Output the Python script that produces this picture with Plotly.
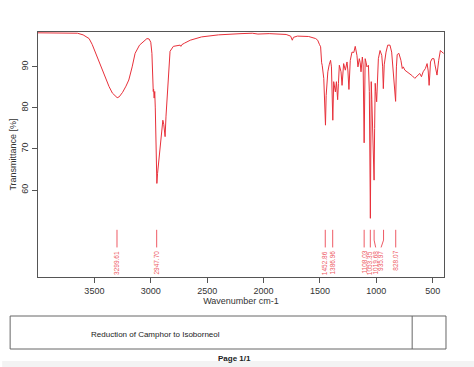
import plotly.graph_objects as go

# Spectrum (wavenumber cm-1, transmittance %)
wavenumber = [4000, 3800, 3650, 3600, 3547, 3520, 3489, 3460, 3430, 3400, 3370, 3340, 3310, 3298, 3280,
              3250, 3220, 3195, 3165, 3139, 3100, 3060, 3034, 3015, 3000, 2990, 2984, 2978, 2975, 2970,
              2965, 2960, 2952, 2946, 2940, 2935, 2931, 2920, 2905, 2893, 2885, 2878, 2873, 2865, 2850,
              2838, 2829, 2800, 2760, 2740, 2733, 2725, 2700, 2650, 2550, 2400, 2200, 2100, 2050, 1950,
              1800, 1760, 1745, 1735, 1700, 1600, 1538, 1520, 1505, 1494, 1485, 1480, 1466, 1458, 1451,
              1445, 1437, 1430, 1418, 1406, 1398, 1386, 1378, 1370, 1363, 1354, 1343, 1336, 1328, 1313,
              1304, 1290, 1275, 1260, 1252, 1243, 1235, 1231, 1216, 1200, 1187, 1180, 1172, 1163, 1151,
              1143, 1136, 1124, 1117, 1108, 1099, 1090, 1084, 1070, 1062, 1053, 1049, 1045, 1040, 1031,
              1026, 1020, 1015, 1010, 1005, 997, 990, 982, 967, 952, 944, 938, 930, 923, 914,
              899, 879, 864, 850, 840, 829, 822, 815, 800, 782, 770, 761, 747, 725, 703,
              680, 659, 644, 629, 615, 600, 585, 565, 550, 540, 532, 526, 520, 506, 489,
              480, 462, 447, 432, 418, 403]
transmittance = [98.3, 98.3, 98.2, 97.8, 96.9, 95.5, 93.3, 91.3, 89.2, 87.0, 85.2, 83.6, 82.7, 82.5, 82.7,
                 83.8, 85.3, 86.8, 90.0, 93.3, 95.3, 96.3, 96.9, 96.8, 96.0, 93.3, 88.0, 84.0, 84.6, 82.4,
                 84.0, 80.0, 70.0, 61.6, 64.0, 65.5, 65.3, 70.0, 74.5, 77.0, 76.0, 73.5, 73.0, 78.0, 86.0,
                 91.5, 93.8, 95.0, 95.3, 95.3, 95.0, 95.4, 95.8, 96.5, 97.3, 97.8, 98.1, 98.2, 98.0, 98.1,
                 97.9, 97.5, 96.5, 97.2, 97.5, 97.4, 96.9, 96.5, 95.5, 94.9, 91.0, 90.4, 87.2, 82.0, 75.8,
                 83.0, 88.0, 88.8, 90.5, 91.6, 90.0, 77.0, 86.4, 85.0, 83.9, 86.4, 82.0, 86.0, 90.4, 88.8,
                 85.5, 90.8, 89.2, 91.2, 89.0, 84.5, 90.0, 91.6, 93.6, 93.5, 95.0, 94.0, 92.8, 90.0, 92.0,
                 91.0, 88.8, 92.4, 90.5, 71.5, 92.0, 91.0, 90.0, 90.4, 84.0, 53.1, 75.0, 86.4, 82.0, 69.0,
                 70.0, 62.4, 75.0, 86.0, 84.0, 81.5, 88.0, 92.0, 94.0, 92.8, 90.0, 84.7, 90.5, 92.4, 93.6,
                 95.3, 95.3, 93.6, 88.8, 84.0, 81.6, 90.0, 93.0, 93.3, 91.6, 89.6, 90.0, 89.2, 88.8, 88.4,
                 87.8, 87.2, 87.6, 88.0, 88.4, 87.6, 88.8, 89.6, 90.8, 89.0, 85.5, 88.0, 91.2, 92.0, 92.0,
                 90.5, 88.0, 91.6, 94.0, 93.6, 93.3]

# Peak picks
peak_positions = [3299.61, 2947.70, 1452.86, 1386.96, 1108.03, 1053.35, 1019.68, 935.97, 828.07]
peak_labels = ["3299.61", "2947.70", "1452.86", "1386.96", "1108.03", "1053.35", "1019.68", "935.97", "828.07"]
label_positions = [3299.61, 2947.70, 1452.86, 1386.96, 1108.03, 1053.35, 1006.0, 958.0, 828.07]

x_ticks = [3500, 3000, 2500, 2000, 1500, 1000, 500]
y_ticks = [60, 70, 80, 90]

title_text = "Reduction of Camphor to Isoborneol"
page_text = "Page 1/1"

RED = "#e8303a"
LBL = "#ee5a64"
FONT = "Arial, Liberation Sans, sans-serif"

fig = go.Figure()
fig.add_trace(go.Scatter(x=wavenumber, y=transmittance, mode="lines",
                         line=dict(color=RED, width=1), hoverinfo="x+y", showlegend=False))

LINE_TOP, LINE_BEND, LINE_BOT, LABEL_Y = 50.3, 47.8, 46.0, 45.4
for p, lx, txt in zip(peak_positions, label_positions, peak_labels):
    fig.add_trace(go.Scatter(x=[p, p, lx], y=[LINE_TOP, LINE_BEND, LINE_BOT], mode="lines",
                             line=dict(color=LBL, width=1), hoverinfo="skip", showlegend=False))
    fig.add_annotation(x=lx, y=LABEL_Y, xref="x", yref="y", text=txt, textangle=-90,
                       showarrow=False, xanchor="center", yanchor="top",
                       font=dict(size=6.5, color=LBL, family=FONT), borderpad=0)

axis_common = dict(showline=True, mirror=True, linecolor="#555", linewidth=1,
                   ticks="outside", ticklen=5, tickcolor="#555", showgrid=False, zeroline=False,
                   tickfont=dict(size=9, color="#333", family=FONT))

fig.update_xaxes(range=[4000, 400], tickvals=x_ticks, ticktext=[str(v) for v in x_ticks],
                 title=dict(text="Wavenumber cm-1", font=dict(size=9, color="#333", family=FONT), standoff=1),
                 **axis_common)
fig.update_yaxes(range=[38.8, 98.5], tickvals=y_ticks, ticktext=[str(v) for v in y_ticks], tickangle=-90,
                 title=dict(text="Transmittance [%]", font=dict(size=9, color="#333", family=FONT), standoff=2),
                 **axis_common)

W, H = 474, 367
L, R, T, B = 36, 30, 32, 90
pw, ph = W - L - R, H - T - B

def px_x(px):
    return (px - L) / pw

def px_y(py):
    return (H - B - py) / ph

shapes = [
    dict(type="rect", xref="paper", yref="paper", x0=px_x(0), x1=px_x(474), y0=px_y(367), y1=px_y(361),
         fillcolor="#f3f3f3", line=dict(width=0), layer="below"),
    dict(type="rect", xref="paper", yref="paper", x0=px_x(8), x1=px_x(446), y0=px_y(349), y1=px_y(316),
         line=dict(color="#666", width=1)),
    dict(type="line", xref="paper", yref="paper", x0=px_x(412), x1=px_x(412), y0=px_y(349), y1=px_y(316),
         line=dict(color="#666", width=1)),
]
fig.update_layout(shapes=shapes)
fig.add_annotation(xref="paper", yref="paper", x=px_x(154), y=px_y(334), text=title_text,
                   showarrow=False, xanchor="center", yanchor="middle",
                   font=dict(size=8, color="#222", family=FONT))
fig.add_annotation(xref="paper", yref="paper", x=px_x(233), y=px_y(358), text="<b>" + page_text + "</b>",
                   showarrow=False, xanchor="center", yanchor="middle",
                   font=dict(size=8, color="#222", family=FONT))

fig.update_layout(width=W, height=H, margin=dict(l=L, r=R, t=T, b=B),
                  paper_bgcolor="white", plot_bgcolor="white", showlegend=False,
                  font=dict(family=FONT))

fig.write_html("out.html", config={"displayModeBar": False},
               post_script="document.body.style.margin='0';document.body.style.overflow='hidden';")
